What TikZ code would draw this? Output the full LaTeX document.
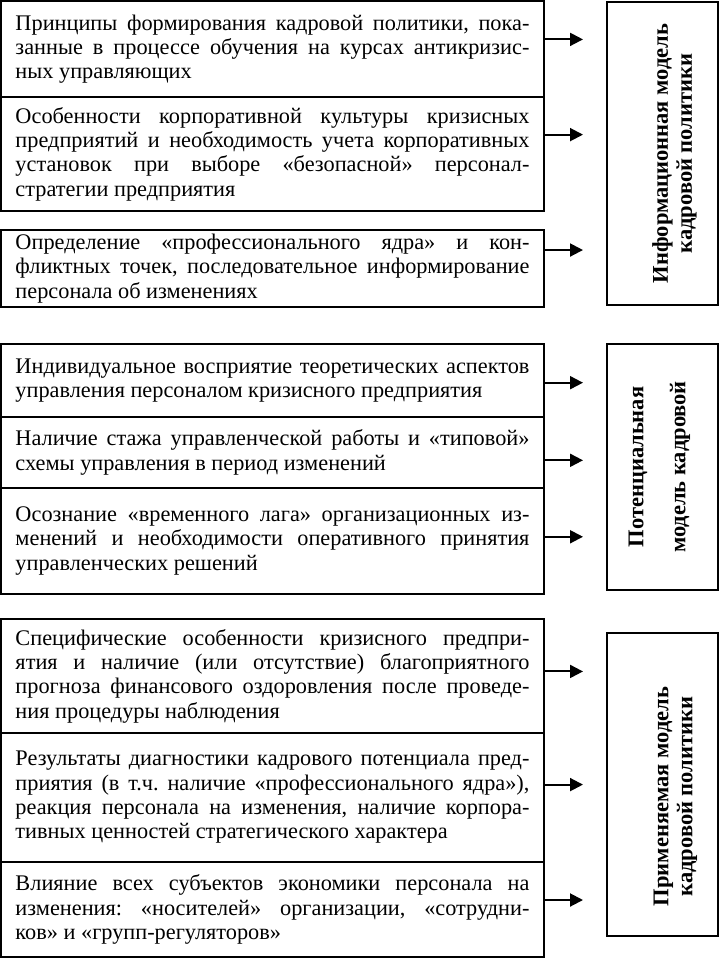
\documentclass[tikz,border=0pt]{standalone}
\usepackage{fontspec}
\setmainfont{Liberation Serif}
\usepackage{tikz}
\usetikzlibrary{positioning,calc,arrows.meta}
\hyphenpenalty=10000
\exhyphenpenalty=10000
\frenchspacing

\begin{document}
\begin{tikzpicture}[
    x=1pt, y=-1pt,
    factor/.style={rectangle, draw, line width=1.6pt, outer sep=0pt, inner sep=0pt, minimum width=543pt, text width=514pt, align=justify, font=\fontsize{22.3}{24.3}\selectfont},
    model/.style={rectangle, draw, line width=1.6pt, outer sep=0pt, minimum width=111pt},
    modeltext/.style={rotate=90, align=center, inner sep=0pt, font=\bfseries\fontsize{22.5}{24}\selectfont},
    influence/.style={-{Triangle[length=13pt,width=13pt]}, line width=2pt}
]
\useasboundingbox (0,0) rectangle (720,959);

% Information model group
\node[factor, minimum height=96pt, anchor=north west] (princ) at (1,1) {Принципы формирования кадровой политики, пока-\linebreak занные в процессе обучения на курсах антикризис-\linebreak ных управляющих};
\node[factor, minimum height=114pt, below=0pt of princ] (culture) {Особенности корпоративной культуры кризисных\linebreak предприятий и необходимость учета корпоративных\linebreak установок при выборе «безопасной» персонал-\linebreak стратегии предприятия};
\node[factor, minimum height=77pt, below=19pt of culture] (core) {Определение «профессионального ядра» и кон-\linebreak фликтных точек, последовательное информирование\linebreak персонала об изменениях};

% Potential model group
\node[factor, minimum height=73pt, below=37pt of core] (theory) {Индивидуальное восприятие теоретических аспектов\linebreak управления персоналом кризисного предприятия};
\node[factor, minimum height=71pt, below=0pt of theory] (exper) {Наличие стажа управленческой работы и «типовой»\linebreak схемы управления в период изменений};
\node[factor, minimum height=106pt, below=0pt of exper] (lag) {Осознание «временного лага» организационных из-\linebreak менений и необходимости оперативного принятия\linebreak управленческих решений};

% Applied model group
\node[factor, minimum height=114pt, below=25pt of lag] (specif) {Специфические особенности кризисного предпри-\linebreak ятия и наличие (или отсутствие) благоприятного\linebreak прогноза финансового оздоровления после проведе-\linebreak ния процедуры наблюдения};
\node[factor, minimum height=129pt, below=0pt of specif] (diagn) {Результаты диагностики кадрового потенциала пред-\linebreak приятия (в т.ч. наличие «профессионального ядра»),\linebreak реакция персонала на изменения, наличие корпора-\linebreak тивных ценностей стратегического характера};
\node[factor, minimum height=95pt, below=0pt of diagn] (subj) {Влияние всех субъектов экономики персонала на\linebreak изменения: «носителей» организации, «сотрудни-\linebreak ков» и «групп-регуляторов»};

% Model boxes
\node[model, minimum height=303pt] (info) at (662.5,153.5) {};
\node[model, minimum height=246pt] (potent) at (662.5,467) {};
\node[model, minimum height=303pt] (applied) at (662.5,784.5) {};
\node[modeltext] (infotext) at ([xshift=12pt]info.center) {Информационная модель\\кадровой политики};
\node[modeltext] (potenttext) at ([xshift=-3pt]potent.center) {Потенциальная\\[18pt]модель кадровой};
\node[modeltext] (appliedtext) at ([xshift=13pt,yshift=-12pt]applied.center) {Применяемая модель\\кадровой политики};

% Arrows
\draw[influence] ($(princ.north east)!.40!(princ.south east)$) -- ++(39,0);
\draw[influence] ($(culture.north east)!.33!(culture.south east)$) -- ++(39,0);
\draw[influence] ($(core.north east)!.26!(core.south east)$) -- ++(39,0);
\draw[influence] ($(theory.north east)!.53!(theory.south east)$) -- ++(39,0);
\draw[influence] ($(exper.north east)!.61!(exper.south east)$) -- ++(39,0);
\draw[influence] ($(lag.north east)!.46!(lag.south east)$) -- ++(39,0);
\draw[influence] ($(specif.north east)!.46!(specif.south east)$) -- ++(39,0);
\draw[influence] ($(diagn.north east)!.40!(diagn.south east)$) -- ++(39,0);
\draw[influence] ($(subj.north east)!.40!(subj.south east)$) -- ++(39,0);

\end{tikzpicture}
\end{document}
